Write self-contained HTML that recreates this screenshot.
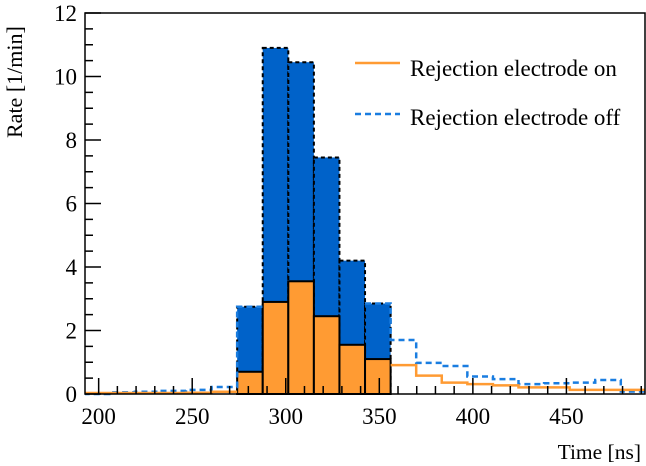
<!DOCTYPE html>
<html><head><meta charset="utf-8"><style>
body{margin:0;background:#fff}
svg{display:block;font-family:"Liberation Serif",serif}
</style></head><body>
<svg id="c" width="646" height="466"></svg>
<script>
const binStart = 192;
const binWidth = 13.67;
const offValues = [0, 0.05, 0.07, 0.1, 0.13, 0.22, 2.75, 10.9, 10.45, 7.45, 4.2, 2.85, 1.7, 0.98, 0.88, 0.55, 0.47, 0.31, 0.34, 0.36, 0.44, 0.08];
const onValues = [0.03, 0.03, 0.03, 0.03, 0.04, 0.07, 0.7, 2.9, 3.55, 2.45, 1.55, 1.1, 0.91, 0.58, 0.36, 0.31, 0.27, 0.21, 0.21, 0.13, 0.13, 0.13];
const filledFrom = 6, filledTo = 12;
const xTicks = [200, 250, 300, 350, 400, 450];
const yTicks = [0, 2, 4, 6, 8, 10, 12];
const ns = 'http://www.w3.org/2000/svg';
const svg = document.getElementById('c');
const L = 85, R = 645, T = 13, B = 394;
const xmin = 192.7, xmax = 492;
const X = v => L + (v - xmin) / (xmax - xmin) * (R - L);
const Y = v => B - v / 12 * (B - T);
function mk(tag, attrs, parent) {
  const e = document.createElementNS(ns, tag);
  for (const k in attrs) e.setAttribute(k, attrs[k]);
  (parent || svg).appendChild(e);
  return e;
}
const clip = mk('clipPath', {id: 'pc'});
mk('rect', {x: L, y: T - 2, width: R - L, height: B - T + 4}, clip);
const g = mk('g', {'clip-path': 'url(#pc)'});


for (let i = filledFrom; i < filledTo; i++) {
  const x0 = X(binStart + i * binWidth), x1 = X(binStart + (i + 1) * binWidth);
  const b = mk('rect', {x: x0, y: Y(offValues[i]), width: x1 - x0, height: B - Y(offValues[i]), fill: '#0062c9', stroke: '#000', 'stroke-width': 2, 'stroke-dasharray': '4,3'}, g);
  
  
}
for (let i = filledFrom; i < filledTo; i++) {
  const x0 = X(binStart + i * binWidth), x1 = X(binStart + (i + 1) * binWidth);
  const b = mk('rect', {x: x0, y: Y(onValues[i]), width: x1 - x0, height: B - Y(onValues[i]), fill: '#ff9b33', stroke: '#000', 'stroke-width': 2}, g);
  
  
}
function stepPath(vals, from, to) {
  let d = '';
  for (let i = from; i < to; i++) {
    const x0 = X(binStart + i * binWidth), x1 = X(binStart + (i + 1) * binWidth);
    d += (i === from ? 'M' + x0 + ',' + Y(vals[i]) : 'L' + x0 + ',' + Y(vals[i])) + 'L' + x1 + ',' + Y(vals[i]);
  }
  return d;
}
const pb1 = mk('path', {d: stepPath(offValues, 0, filledFrom + 1), fill: 'none', stroke: '#1a7de0', 'stroke-width': 2.5, 'stroke-dasharray': '6,4'}, g);


const pb2 = mk('path', {d: stepPath(offValues, filledTo - 1, offValues.length), fill: 'none', stroke: '#1a7de0', 'stroke-width': 2.5, 'stroke-dasharray': '6,4'}, g);


const po1 = mk('path', {d: stepPath(onValues, 0, filledFrom), fill: 'none', stroke: '#ff9b33', 'stroke-width': 2.5}, g);


const po2 = mk('path', {d: stepPath(onValues, filledTo, onValues.length), fill: 'none', stroke: '#ff9b33', 'stroke-width': 2.5}, g);


const ax = mk('g', {stroke: '#000', 'stroke-width': 1.5});


for (let v = 200; v <= 490; v += 10) {
  const major = v % 50 === 0;
  mk('line', {x1: X(v), x2: X(v), y1: B, y2: B - (major ? 16 : 8)}, ax);
}
for (let v = 0; v <= 12; v += 0.5) {
  const major = v % 2 === 0;
  mk('line', {x1: L, x2: L + (major ? 16 : 8), y1: Y(v), y2: Y(v)}, ax);
}
const fr = mk('rect', {x: L, y: T, width: R - L, height: B - T, fill: 'none', stroke: '#000', 'stroke-width': 1.5});


xTicks.forEach(v => {
  const t = mk('text', {x: X(v), y: 424, 'font-size': 23, 'text-anchor': 'middle'});
  t.textContent = v;
  
  
});
yTicks.forEach(v => {
  const t = mk('text', {x: 77, y: Y(v) + 8, 'font-size': 23, 'text-anchor': 'end'});
  t.textContent = v;
  
  
});
</script>
<svg width="646" height="466" style="position:absolute;left:0;top:0;font-family:'Liberation Serif',serif">
<text x="641" y="459" font-size="21.5" text-anchor="end">Time [ns]</text>
<text transform="translate(22,138) rotate(-90)" font-size="22">Rate [1/min]</text>
<g>
<line x1="355" y1="63" x2="400" y2="63" stroke="#ff9b33" stroke-width="2.5"/>
<text x="410" y="76" font-size="23">Rejection electrode on</text>
<line x1="355" y1="114" x2="400" y2="114" stroke="#1a7de0" stroke-width="2.5" stroke-dasharray="6,4"/>
<text x="410" y="125" font-size="23">Rejection electrode off</text>
</g>
</svg>
</body></html>
